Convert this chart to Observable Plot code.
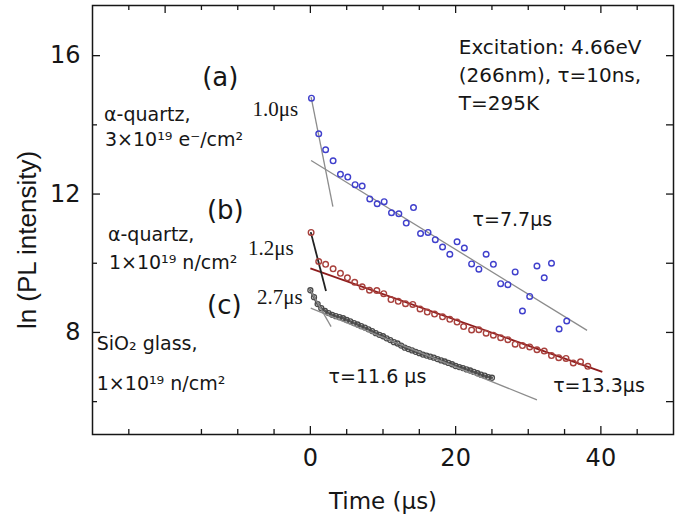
<!DOCTYPE html>
<html><head><meta charset="utf-8">
<script src="https://cdn.jsdelivr.net/npm/d3@7"></script>
<script src="https://cdn.jsdelivr.net/npm/@observablehq/plot@0.6"></script>
<style>html,body{margin:0;padding:0;background:#fff;}</style>
</head><body><div id="chart"></div>
<script>
// ---------------- data ----------------
// (a) alpha-quartz, electron irradiated (blue circles)
const blueTime = [0.15,1.15,2.1,3.13,4.14,5.15,6.16,7.13,8.18,9.2,10.16,11.17,12.18,13.2,14.2,15.17,16.2,17.2,18.2,19.2,20.2,21.2,22.2,23.2,24.2,25.2,26.2,27.2,28.2,29.2,30.2,31.2,32.2,33.2,34.25,35.3];
const blueLnI  = [14.77,13.74,13.28,12.96,12.57,12.49,12.27,12.23,11.86,11.72,11.78,11.46,11.43,11.16,11.61,10.86,10.89,10.68,10.47,10.26,10.62,10.44,9.98,9.83,10.26,9.97,9.41,9.38,9.75,8.62,9.04,9.92,9.58,10.0,8.1,8.33];
// (b) alpha-quartz, neutron irradiated (red circles)
const redTime = [0.1,1.15,2.1,3.13,4.14,5.1,6.1,7.13,8.14,9.15,10.1,11.1,12.1,13.1,14.1,15.1,16.1,17.1,18.2,19.2,20.2,21.1,22.2,23.2,24.2,25.2,26.2,27.2,28.2,29.2,30.2,31.2,32.2,33.2,34.2,35.2,36.2,37.2,38.2];
const redLnI  = [10.89,10.05,9.97,9.84,9.71,9.58,9.45,9.32,9.22,9.21,9.12,8.95,8.9,8.83,8.81,8.68,8.59,8.53,8.45,8.38,8.3,8.17,8.07,8.08,7.98,7.92,7.85,7.79,7.66,7.62,7.58,7.5,7.46,7.33,7.27,7.25,7.12,7.15,7.02];
// (c) SiO2 glass, neutron irradiated (grey circles)
const greyTime = [0,0.5,1,1.5,2,2.5,3,3.5,4,4.5,5,5.5,6,6.5,7,7.5,8,8.5,9,9.5,10,10.5,11,11.5,12,12.5,13,13.5,14,14.5,15,15.5,16,16.5,17,17.5,18,18.5,19,19.5,20,20.5,21,21.5,22,22.5,23,23.5,24,24.5,25];
const greyLnI  = [9.22,9.02,8.82,8.7,8.62,8.56,8.51,8.47,8.44,8.41,8.36,8.32,8.27,8.23,8.18,8.14,8.09,8.04,7.98,7.93,7.89,7.83,7.78,7.72,7.68,7.62,7.56,7.52,7.48,7.44,7.4,7.36,7.33,7.3,7.27,7.23,7.19,7.16,7.12,7.08,7.03,7.0,6.97,6.93,6.9,6.86,6.82,6.78,6.75,6.71,6.69];
// exponential-decay fit lines (end points)
const fitId   = ["a-fast","a-slow","b-fast","b-slow","c-fast","c-slow"];
const fitT1   = [0.1, 0.1, 0.05, 0.0, 0.0, 0.05];
const fitLn1  = [14.8, 12.97, 10.9, 9.85, 9.22, 8.7];
const fitT2   = [3.1, 38.1, 2.15, 40.2, 2.85, 31.2];
const fitLn2  = [11.64, 8.06, 9.2, 6.86, 8.17, 6.05];
// tick values
const xLabelTicks = [0, 20, 40];
const yLabelTicks = [8, 12, 16];
const xTopTicks = [-25,-20,-15,-10,-5,0,5,10,15,20,25,30,35,40,45];
const xBottomTicks = [-25,-15,-10,-5,0,5,10,15,20,25,30,35,40,45];
const yTicks = [6, 8, 10, 12, 14, 16];
// texts
const xTitle = "Time (μs)";
const yTitle = "ln (PL intensity)";
const headerNotes = [
  {text: "Excitation: 4.66eV", x: 20.43, y: 16.05},
  {text: "(266nm), τ=10ns,", x: 20.43, y: 15.23},
  {text: "T=295K", x: 20.43, y: 14.42}
];
const panelTags = [
  {text: "(a)", x: -12.4, y: 15.11},
  {text: "(b)", x: -11.71, y: 11.27},
  {text: "(c)", x: -11.85, y: 8.52}
];
const sampleNotes = [
  {text: "α-quartz,", x: -28.41, y: 14.11},
  {text: "3×10¹⁹ e⁻/cm²", x: -28.28, y: 13.4},
  {text: "α-quartz,", x: -27.87, y: 10.64},
  {text: "1×10¹⁹ n/cm²", x: -27.74, y: 9.82},
  {text: "SiO₂ glass,", x: -29.41, y: 7.49},
  {text: "1×10¹⁹ n/cm²", x: -29.41, y: 6.34}
];
const fastTauNotes = [
  {text: "1.0μs", x: -1.69, y: 14.27},
  {text: "1.2μs", x: -2.31, y: 10.23},
  {text: "2.7μs", x: -1.07, y: 8.81}
];
const slowTauNotes = [
  {text: "τ=7.7μs", x: 22.34, y: 11.09},
  {text: "τ=13.3μs", x: 33.43, y: 6.27},
  {text: "τ=11.6 μs", x: 2.51, y: 6.54}
];

// ---------------- build tables ----------------
const blue = blueTime.map((t, i) => ({t, v: blueLnI[i]}));
const red = redTime.map((t, i) => ({t, v: redLnI[i]}));
const grey = greyTime.map((t, i) => ({t, v: greyLnI[i]}));
const fits = fitId.map((id, i) => ({id, t1: fitT1[i], v1: fitLn1[i], t2: fitT2[i], v2: fitLn2[i]}));

// ---------------- layout ----------------
const W = 687, H = 519, ML = 92, MR = 14, MT = 5, MB = 85;
const xDomain = [-30, 50], yDomain = [5.05, 17.45];
const kx = (W - ML - MR) / (xDomain[1] - xDomain[0]);
const ky = (H - MT - MB) / (yDomain[1] - yDomain[0]);
const ink = "#161616";
const isMajorX = d => d % 20 === 0;
const isMajorY = d => d % 4 === 0;

const chart = Plot.plot({
  width: W, height: H,
  marginLeft: ML, marginRight: MR, marginTop: MT, marginBottom: MB,
  x: {domain: xDomain},
  y: {domain: yDomain},
  style: {fontFamily: "'DejaVu Sans', sans-serif", background: "#fff", color: ink},
  marks: [
    Plot.frame({stroke: ink, strokeWidth: 1.5}),
    // inward ticks
    Plot.ruleX(xBottomTicks, {x: d => d, y1: yDomain[0], y2: d => yDomain[0] + (isMajorX(d) ? 8 : 5) / ky, stroke: ink, strokeWidth: 1.3}),
    Plot.ruleX(xTopTicks, {x: d => d, y1: yDomain[1], y2: d => yDomain[1] - (isMajorX(d) ? 8 : 5) / ky, stroke: ink, strokeWidth: 1.3}),
    Plot.ruleY(yTicks, {y: d => d, x1: xDomain[0], x2: d => xDomain[0] + (isMajorY(d) ? 8 : 5) / kx, stroke: ink, strokeWidth: 1.3}),
    Plot.ruleY(yTicks, {y: d => d, x1: xDomain[1], x2: d => xDomain[1] - 7 / kx, stroke: ink, strokeWidth: 1.3}),
    Plot.axisX({ticks: xLabelTicks, tickSize: 0, tickPadding: 14, fontSize: 24, label: null, tickFormat: d => String(d)}),
    Plot.axisY({ticks: yLabelTicks, tickSize: 0, tickPadding: 12, fontSize: 24, label: null, tickFormat: d => String(d)}),
    // series (c) grey
    Plot.line(grey, {x: "t", y: "v", stroke: "#5a5a5a", strokeWidth: 2.6}),
    Plot.dot(grey, {x: "t", y: "v", r: 2.5, stroke: "#4a4a4a", strokeWidth: 1.3, fill: "none"}),
    // fit lines
    Plot.link(fits.filter(d => d.id.startsWith("a") || d.id.startsWith("c")), {x1: "t1", y1: "v1", x2: "t2", y2: "v2", stroke: "#8c8c8c", strokeWidth: 1.3}),
    Plot.link(fits.filter(d => d.id === "b-slow"), {x1: "t1", y1: "v1", x2: "t2", y2: "v2", stroke: "#8e1c1c", strokeWidth: 1.8}),
    Plot.link(fits.filter(d => d.id === "b-fast"), {x1: "t1", y1: "v1", x2: "t2", y2: "v2", stroke: "#222", strokeWidth: 1.8}),
    // series (a) blue, (b) red
    Plot.dot(blue, {x: "t", y: "v", r: 2.8, stroke: "#3f3fcc", strokeWidth: 1.4, fill: "none"}),
    Plot.dot(red, {x: "t", y: "v", r: 2.8, stroke: "#a8403c", strokeWidth: 1.4, fill: "none"}),
    // annotations
    Plot.text(headerNotes, {x: "x", y: "y", text: "text", textAnchor: "start", lineAnchor: "bottom", fontSize: 20, fill: ink}),
    Plot.text(panelTags, {x: "x", y: "y", text: "text", textAnchor: "middle", lineAnchor: "bottom", fontSize: 26, fill: ink}),
    Plot.text(sampleNotes, {x: "x", y: "y", text: "text", textAnchor: "start", lineAnchor: "bottom", fontSize: 19, fill: ink}),
    Plot.text(fastTauNotes, {x: "x", y: "y", text: "text", textAnchor: "end", lineAnchor: "bottom", fontSize: 21, fontFamily: "'Liberation Serif', 'Times New Roman', serif", fill: ink}),
    Plot.text(slowTauNotes, {x: "x", y: "y", text: "text", textAnchor: "start", lineAnchor: "bottom", fontSize: 19, fill: ink}),
    // axis titles
    Plot.text([xTitle], {frameAnchor: "bottom", textAnchor: "middle", lineAnchor: "bottom", dy: 74, fontSize: 23, fill: ink}),
    Plot.text([yTitle], {frameAnchor: "left", textAnchor: "middle", rotate: -90, lineAnchor: "bottom", dx: -57, dy: 20, fontSize: 26, fontFamily: "'Liberation Sans', Arial, sans-serif", fill: ink})
  ]
});
document.getElementById("chart").appendChild(chart);
</script>
</body></html>
